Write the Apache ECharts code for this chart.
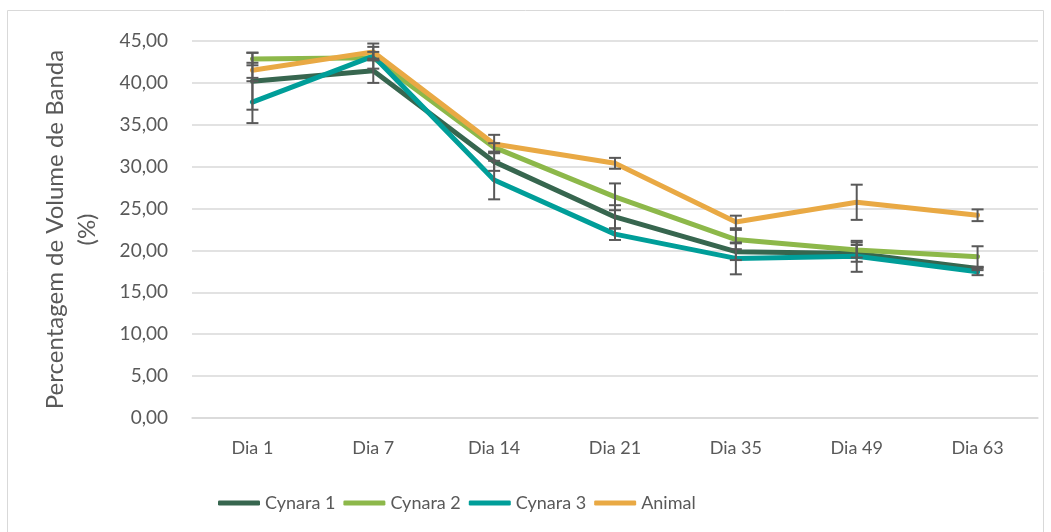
<!DOCTYPE html>
<html>
<head>
    <meta charset="utf-8">
    <script src="https://cdn.jsdelivr.net/npm/echarts@6/dist/echarts.min.js"></script>
    <style>
        html, body { margin: 0; padding: 0; background: #fff; }
    </style>
</head>
<body>
<div id="main" style="width:1051px;height:532px"></div>
<script>
    var categories = ['Dia 1', 'Dia 7', 'Dia 14', 'Dia 21', 'Dia 35', 'Dia 49', 'Dia 63'];
    var yTicks = [0, 5, 10, 15, 20, 25, 30, 35, 40, 45];

    var cynara1 = [40.2, 41.45, 30.6, 24.0, 19.85, 19.65, 17.85];
    var cynara2 = [42.85, 43.0, 32.3, 26.4, 21.3, 20.05, 19.25];
    var cynara3 = [37.7, 43.2, 28.4, 21.95, 19.05, 19.3, 17.45];
    var animal  = [41.5, 43.7, 32.7, 30.4, 23.4, 25.75, 24.2];

    // desvio (+/-) de cada ponto
    var err1 = [3.4, 1.45, 1.1, 1.4, 1.0, 1.0, 0.2];
    var err2 = [0.75, 1.3, 0.5, 1.6, 1.15, 0.9, 1.25];
    var err3 = [2.5, 0.5, 2.3, 0.7, 1.9, 1.85, 0.4];
    var errA = [0.9, 1.0, 1.1, 0.65, 0.75, 2.1, 0.7];

    var names = ['Cynara 1', 'Cynara 2', 'Cynara 3', 'Animal'];
    var colors = ['#37664f', '#8db84a', '#009e99', '#e9a944'];
    var values = [cynara1, cynara2, cynara3, animal];
    var errors = [err1, err2, err3, errA];

    var font = 'Lato, "Open Sans", sans-serif';

    function errorData(vals, errs) {
        var out = [];
        for (var i = 0; i < vals.length; i++) {
            out.push([i, vals[i] - errs[i], vals[i] + errs[i]]);
        }
        return out;
    }

    function renderError(params, api) {
        var lo = api.coord([api.value(0), api.value(1)]);
        var hi = api.coord([api.value(0), api.value(2)]);
        var w = 6;
        var st = { stroke: '#595959', lineWidth: 2 };
        return {
            type: 'group',
            children: [
                { type: 'line', shape: { x1: lo[0], y1: lo[1], x2: hi[0], y2: hi[1] }, style: st },
                { type: 'line', shape: { x1: lo[0] - w, y1: lo[1], x2: lo[0] + w, y2: lo[1] }, style: st },
                { type: 'line', shape: { x1: hi[0] - w, y1: hi[1], x2: hi[0] + w, y2: hi[1] }, style: st }
            ]
        };
    }

    var series = [];
    for (var k = 0; k < names.length; k++) {
        series.push({
            name: names[k],
            type: 'line',
            data: values[k],
            symbol: 'none',
            lineStyle: { width: 5, color: colors[k], cap: 'round', join: 'round' },
            itemStyle: { color: colors[k] },
            z: 2
        });
    }
    for (var k = 0; k < names.length; k++) {
        series.push({
            type: 'custom',
            renderItem: renderError,
            data: errorData(values[k], errors[k]),
            encode: { x: 0, y: [1, 2] },
            z: 3,
            silent: true
        });
    }

    var myChart = echarts.init(document.getElementById('main'));
    var option = {
        animation: false,
        color: colors,
        graphic: [{
            type: 'rect',
            shape: { x: 7.5, y: 10.5, width: 1036, height: 530 },
            style: { fill: 'none', stroke: '#d9d9d9', lineWidth: 1 },
            silent: true
        }],
        grid: { left: 192, right: 13, top: 41, bottom: 114 },
        legend: {
            data: names,
            left: 213,
            top: 489,
            icon: 'roundRect',
            itemWidth: 42,
            itemHeight: 5,
            itemGap: 8,
            textStyle: { fontFamily: font, fontSize: 18, color: '#595959' }
        },
        xAxis: {
            type: 'category',
            data: categories,
            boundaryGap: true,
            axisLine: { lineStyle: { color: '#d9d9d9', width: 1.5 } },
            axisTick: { show: false },
            axisLabel: { fontFamily: font, fontSize: 18, color: '#595959', margin: 21 }
        },
        yAxis: {
            type: 'value',
            min: yTicks[0],
            max: yTicks[yTicks.length - 1],
            interval: 5,
            name: 'Percentagem de Volume de Banda\n(%)',
            nameLocation: 'middle',
            nameGap: 89,
            nameTextStyle: { fontFamily: font, fontSize: 24, color: '#595959', lineHeight: 32 },
            axisLine: { show: false },
            axisTick: { show: false },
            splitLine: { lineStyle: { color: '#d9d9d9', width: 1.5 } },
            axisLabel: {
                fontFamily: font, fontSize: 19, color: '#595959', margin: 24,
                formatter: function (v) { return v.toFixed(2).replace('.', ','); }
            }
        },
        series: series
    };
    myChart.setOption(option);
</script>
</body>
</html>
